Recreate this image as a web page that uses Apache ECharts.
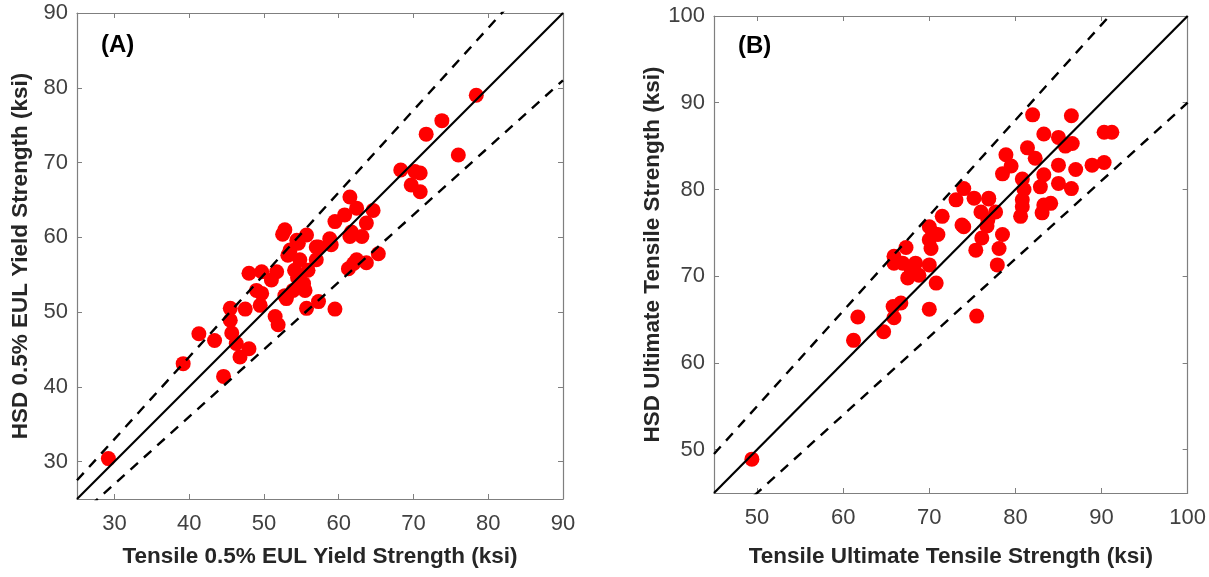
<!DOCTYPE html>
<html>
<head>
<meta charset="UTF-8"/>
<title>HSD vs Tensile</title>
<script src="https://cdn.jsdelivr.net/npm/echarts@6/dist/echarts.min.js"></script>
<style>
  html, body { margin: 0; padding: 0; background: #fff; }
  #main { width: 1209px; height: 577px; }
</style>
</head>
<body>
<div id="main"></div>
<script type="text/javascript">
// panel A: 0.5% EUL yield strength, [tensile, HSD] (ksi)
var yieldPts = [
  [29.2,30.4],[39.2,43.1],[41.3,47.1],[43.4,46.2],[44.6,41.4],[45.5,50.5],[45.5,48.9],[45.7,47.2],
  [46.3,45.8],[46.8,44.0],[47.5,50.4],[48.0,45.1],[48.0,55.2],[49.7,55.4],[49.0,52.9],[49.7,52.5],
  [49.5,50.9],[51.0,54.3],[51.7,55.4],[51.5,49.4],[51.9,48.3],[52.5,60.4],[52.8,61.0],[53.2,57.6],
  [53.0,51.8],[53.9,52.9],[54.1,55.6],[54.4,59.6],[55.7,60.3],[54.8,57.0],[55.3,53.8],[55.5,52.9],
  [55.7,50.5],[57.3,51.4],[57.0,58.7],[59.0,59.0],[59.5,62.1],[59.5,50.4],[61.5,60.1],[61.3,55.8],
  [62.0,56.5],[57.0,57.0],[55.9,55.6],[54.6,59.2],[57.3,58.7],[58.8,59.8],[61.5,65.4],[62.4,63.9],
  [64.6,63.6],[60.8,63.0],[63.7,61.9],[61.7,60.7],[63.1,60.1],[65.3,57.8],[63.7,56.6],[62.4,57.0],
  [68.3,69.0],[70.2,68.8],[70.9,68.6],[69.7,67.0],[70.9,66.1],[71.7,73.8],[73.8,75.6],[76.0,71.0],
  [78.4,79.0],[52.8,52.2],[54.5,54.6],[53.5,58.3]
];
// panel B: ultimate tensile strength, [tensile, HSD] (ksi)
var utsPts = [
  [49.4,48.9],[61.2,62.6],[61.7,65.3],[64.7,63.6],[65.9,65.2],[65.8,66.5],[66.7,66.9],[70.0,66.2],
  [75.5,65.4],[70.8,69.2],[67.5,69.8],[67.9,70.7],[68.4,71.5],[68.8,70.1],[70.0,71.3],[65.9,71.5],
  [65.9,72.3],[67.3,73.3],[70.2,73.2],[70.0,74.2],[71.0,74.8],[70.0,75.7],[71.5,76.9],[73.8,75.9],
  [73.1,78.8],[74.0,80.1],[75.2,79.0],[76.0,77.4],[76.9,78.9],[75.4,73.0],[76.1,74.4],[76.7,75.8],
  [77.7,77.4],[78.5,74.8],[78.1,73.2],[77.9,71.3],[76.8,76.5],[68.1,71.1],[70.4,75.0],[74.0,75.7],
  [66.9,71.5],[82.0,88.6],[86.5,88.5],[83.3,86.4],[85.0,86.0],[86.6,85.3],[85.8,85.0],[90.3,86.6],
  [91.2,86.6],[81.4,84.8],[82.3,83.6],[78.9,84.0],[79.5,82.7],[78.5,81.8],[85.0,82.8],[87.0,82.3],
  [88.9,82.8],[90.3,83.1],[83.3,81.7],[80.8,81.2],[81.0,80.0],[82.9,80.3],[85.0,80.7],[86.5,80.1],
  [83.3,78.2],[84.1,78.4],[83.1,77.3],[80.8,78.0],[80.6,76.9],[76.9,79.0],[80.8,78.8]
];

var ticksA = [30, 40, 50, 60, 70, 80, 90];
var ticksB = [50, 60, 70, 80, 90, 100];
var rangeA = [25, 90];
var rangeB = [45, 100];
// reference lines: y = 1.0x (solid), y = 1.1x and y = 0.9x (dashed)
var ratios = [1.0, 1.1, 0.9];

var FONT = '"Liberation Sans", Arial, sans-serif';

function refLine(r, range) {
  return [[range[0], range[0] * r], [range[1], range[1] * r]];
}

function xAx(gi, range, ticks, name, gap, top) {
  return {
    type: 'value', gridIndex: gi, min: range[0], max: range[1],
    position: top ? 'top' : 'bottom',
    name: top ? '' : name, nameLocation: 'middle', nameGap: gap,
    nameTextStyle: { fontFamily: FONT, fontSize: 22.5, fontWeight: 'bold', color: '#262626' },
    axisLine: { show: true, onZero: false, lineStyle: { color: '#7f7f7f', width: 1.2 } },
    axisTick: { show: true, inside: true, length: 5, customValues: ticks, lineStyle: { color: '#7f7f7f' } },
    axisLabel: { show: !top, customValues: ticks, margin: 14, fontFamily: FONT, fontSize: 22, color: '#404040' },
    splitLine: { show: false }
  };
}
function yAx(gi, range, ticks, name, gap, right) {
  return {
    type: 'value', gridIndex: gi, min: range[0], max: range[1],
    position: right ? 'right' : 'left',
    name: right ? '' : name, nameLocation: 'middle', nameGap: gap,
    nameTextStyle: { fontFamily: FONT, fontSize: 22.5, fontWeight: 'bold', color: '#262626' },
    axisLine: { show: true, onZero: false, lineStyle: { color: '#7f7f7f', width: 1.2 } },
    axisTick: { show: true, inside: true, length: 5, customValues: ticks, lineStyle: { color: '#7f7f7f' } },
    axisLabel: { show: !right, customValues: ticks, margin: 9, fontFamily: FONT, fontSize: 22, color: '#404040' },
    splitLine: { show: false }
  };
}

var series = [];
function addPanel(pts, range, xi, yi) {
  series.push({
    type: 'scatter', xAxisIndex: xi, yAxisIndex: yi, data: pts,
    symbolSize: 15, itemStyle: { color: '#ff0000', opacity: 1 }, z: 2, silent: true
  });
  for (var i = 0; i < ratios.length; i++) {
    series.push({
      type: 'line', xAxisIndex: xi, yAxisIndex: yi, data: refLine(ratios[i], range),
      showSymbol: false, clip: true, z: 3, silent: true,
      lineStyle: { color: '#000', width: i === 0 ? 2.2 : 2.4, type: i === 0 ? 'solid' : [10, 8] }
    });
  }
}
addPanel(yieldPts, rangeA, 0, 0);
addPanel(utsPts, rangeB, 2, 2);

var myChart = echarts.init(document.getElementById('main'));
var option = {
  animation: false,
  backgroundColor: '#fff',
  grid: [
    { left: 77, top: 13, width: 486, height: 486 },
    { left: 714, top: 16, width: 475, height: 477 }
  ],
  xAxis: [
    xAx(0, rangeA, ticksA, 'Tensile 0.5% EUL Yield Strength (ksi)', 46, false),
    xAx(0, rangeA, ticksA, '', 0, true),
    xAx(1, rangeB, ticksB, 'Tensile Ultimate Tensile Strength (ksi)', 52, false),
    xAx(1, rangeB, ticksB, '', 0, true)
  ],
  yAxis: [
    yAx(0, rangeA, ticksA, 'HSD 0.5% EUL Yield Strength (ksi)', 45, false),
    yAx(0, rangeA, ticksA, '', 0, true),
    yAx(1, rangeB, ticksB, 'HSD Ultimate Tensile Strength (ksi)', 50, false),
    yAx(1, rangeB, ticksB, '', 0, true)
  ],
  graphic: [
    { type: 'text', left: 101, top: 33, style: { text: '(A)', fontFamily: FONT, fontSize: 24, fontWeight: 'bold', fill: '#000' } },
    { type: 'text', left: 738, top: 34, style: { text: '(B)', fontFamily: FONT, fontSize: 24, fontWeight: 'bold', fill: '#000' } }
  ],
  series: series
};
myChart.setOption(option);
</script>
</body>
</html>
